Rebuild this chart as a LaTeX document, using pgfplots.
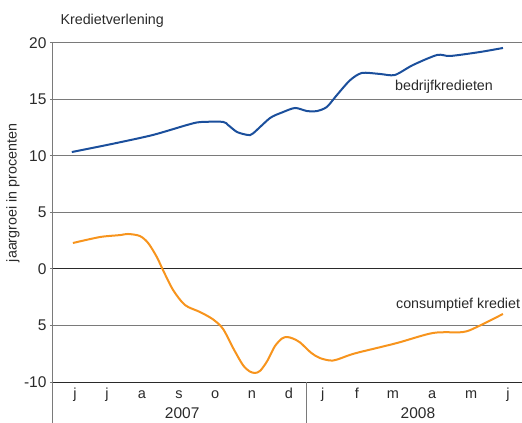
\documentclass[border=0pt]{standalone}
\usepackage{fontspec}
\setmainfont{Liberation Sans}
\usepackage{pgfplots}
\pgfplotsset{compat=1.18}
\definecolor{cblue}{HTML}{1B4F9C}
\definecolor{corange}{HTML}{F7941D}
\definecolor{gridc}{HTML}{7A7A7A}
\definecolor{darkc}{HTML}{2A2A2A}
\begin{document}
\begin{tikzpicture}[font=\fontsize{14.3bp}{16bp}\selectfont]
\begin{axis}[name=ax, scale only axis, width=469bp, height=339bp,
  xmin=-0.5806, xmax=12.386, ymin=-10, ymax=20, clip=false,
  axis line style={draw=none},
  ymajorgrids, grid style={draw=gridc, line width=1bp},
  ytick={-10,-5,0,5,10,15,20},
  yticklabels={-10,5,0,5,10,15,20},
  tick align=outside, major tick length=3bp,
  ytick style={draw=gridc, line width=1bp},
  xtick={0.03,0.91,1.88,2.90,3.90,4.92,5.94,6.88,7.82,8.82,9.90,10.98,12.0},
  xticklabels={j,j,a,s,o,n,d,j,f,m,a,m,j},
  xtick style={draw=none},
  xticklabel style={anchor=base, yshift=-13bp, font=\fontsize{14.5bp}{16bp}\selectfont},
  yticklabel style={font=\fontsize{15.5bp}{17bp}\selectfont},
  tick label style={text=darkc},
]
\draw[darkc, line width=1bp] (axis cs:-0.5806,0) -- (axis cs:12.386,0);
\draw[darkc, line width=1bp] (axis cs:-0.5806,-10) -- (axis cs:12.386,-10);
\draw[gridc, line width=1bp] (axis cs:-0.5806,20) -- (axis cs:-0.5806,-13.7);
\draw[gridc, line width=1bp] (axis cs:6.44,-10) -- (axis cs:6.44,-13.7);

\addplot[cblue, line width=2bp, smooth, tension=0.45] coordinates {
(-0.06,10.35) (1.10,11.10) (2.18,11.86) (3.12,12.74) (3.48,13.0) (4.12,13.02) (4.26,12.74)
(4.51,12.12) (4.81,11.86) (4.95,12.0) (5.42,13.36) (5.75,13.85) (6.11,14.25) (6.44,13.98)
(6.72,13.98) (6.99,14.34) (7.27,15.4) (7.63,16.7) (7.96,17.35) (8.46,17.26)
(8.87,17.17) (9.37,18.05) (10.04,18.94) (10.40,18.85) (11.22,19.2) (11.86,19.56)
};
\addplot[corange, line width=2bp, smooth, tension=0.5] coordinates {
(-0.03,2.3) (0.72,2.83) (1.27,3.0) (1.49,3.1) (1.82,2.92) (2.05,2.3) (2.29,1.06)
(2.46,-0.09) (2.74,-1.86) (3.07,-3.19) (3.48,-3.8) (3.84,-4.45) (4.12,-5.3)
(4.40,-7.0) (4.67,-8.5) (4.85,-9.05) (5.00,-9.2) (5.15,-9.0) (5.35,-8.1)
(5.55,-6.85) (5.75,-6.15) (5.89,-6.02) (6.05,-6.15) (6.25,-6.5)
(6.55,-7.4) (6.80,-7.88) (7.16,-8.1) (7.63,-7.6) (7.91,-7.35) (8.93,-6.55)
(9.93,-5.66) (10.75,-5.58) (11.14,-5.13) (11.86,-3.98)
};

\node[anchor=base west, text=darkc] at (axis cs:-0.47,21.68) {Kredietverlening};
\node[rotate=90, text=darkc] at (axis cs:-1.687,6.73) {jaargroei in procenten};
\node[text=darkc] at (axis cs:10.23,16.1) {bedrijfkredieten};
\node[text=darkc] at (axis cs:10.62,-3.19) {consumptief krediet};
\node[anchor=base, text=darkc, font=\fontsize{15.5bp}{17bp}\selectfont] at (axis cs:2.99,-13.27) {2007};
\node[anchor=base, text=darkc, font=\fontsize{15.5bp}{17bp}\selectfont] at (axis cs:9.51,-13.27) {2008};
\end{axis}
\pgfresetboundingbox
\path[use as bounding box] ([xshift=-53bp,yshift=-41bp]ax.south west) rectangle ([yshift=43bp]ax.north east);
\end{tikzpicture}
\end{document}
